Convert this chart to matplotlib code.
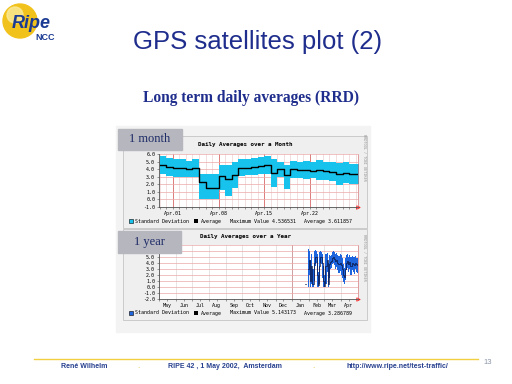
import numpy as np
import matplotlib.pyplot as plt
from matplotlib.patches import Rectangle, Circle

W, H = 512, 384

# ---- month chart: daily values, Mar 30 .. Apr 29 2002
month_days = np.arange('2002-03-30', '2002-04-30', dtype='datetime64[D]')
month_avg = [4.5, 4.3, 4.2, 4.2, 4.0, 4.1, 2.3, 1.5, 1.5, 3.1, 2.7, 3.2, 4.1, 4.2, 4.3, 4.4,
             4.5, 3.5, 4.0, 3.2, 4.0, 3.9, 3.9, 3.8, 3.9, 3.7, 3.6, 3.3, 3.5, 3.4, 3.4]
month_hi = [5.8, 5.5, 5.3, 5.3, 5.1, 5.3, 3.4, 3.3, 3.3, 4.6, 4.6, 5.0, 5.4, 5.4, 5.5, 5.6,
            5.8, 5.3, 5.0, 4.6, 5.1, 5.0, 5.1, 5.0, 5.2, 5.0, 4.9, 4.8, 4.9, 4.7, 4.7]
month_lo = [3.3, 3.1, 3.0, 3.0, 2.9, 3.0, 0.1, 0.0, 0.0, 1.3, 0.5, 1.5, 3.1, 3.2, 3.2, 3.3,
            3.4, 1.6, 2.9, 1.4, 2.8, 2.8, 2.7, 2.8, 2.6, 2.6, 2.4, 1.9, 2.2, 2.1, 2.1]
month_ticks = ['2002-04-01', '2002-04-08', '2002-04-15', '2002-04-22']
month_labels = ['Apr.01', 'Apr.08', 'Apr.15', 'Apr.22']

# ---- year chart: 2-day samples, Jan 24 .. Apr 30 2002
year_days = np.arange('2002-01-24', '2002-05-01', 2, dtype='datetime64[D]')
nan = np.nan
year_avg = [0.5, nan, nan, 3.0, 4.5, 1.0, 3.5, 0.5, 4.0, 5.0, 5.1, 2.0, 0.3, 3.5, 5.1, 5.0,
            4.0, 1.0, 0.2, 3.5, 4.5, 0.5, 3.8, 4.2, 4.4, 4.8, 5.0, 4.7, 4.3, 4.5, 4.1, 3.8,
            4.0, 3.6, 3.0, 2.0, 1.6, 3.0, 4.0, 4.3, 3.8, 4.2, 3.5, 4.0, 3.9, 3.7, 4.1, 3.8, 3.6]
year_lo = [0.0, nan, nan, 0.0, 2.0, 0.0, 0.5, 0.0, 1.0, 3.5, 4.0, 0.0, 0.0, 0.5, 4.0, 3.8,
           1.5, 0.0, 0.0, 0.5, 2.5, 0.0, 1.5, 3.0, 3.2, 3.8, 4.0, 3.6, 3.0, 3.3, 2.8, 2.4,
           2.6, 2.0, 1.5, 0.8, 0.5, 1.2, 2.8, 3.2, 2.5, 3.0, 2.0, 2.8, 2.5, 2.2, 3.0, 2.5, 2.3]
year_hi = [1.0, nan, nan, 6.3, 6.0, 4.5, 5.5, 3.0, 6.0, 6.2, 6.1, 5.5, 2.5, 5.8, 6.0, 5.9,
           5.6, 3.5, 2.0, 5.5, 5.7, 4.0, 5.4, 5.2, 5.4, 5.9, 6.0, 5.8, 5.6, 5.7, 5.4, 5.2,
           5.5, 5.3, 4.8, 3.8, 3.2, 4.8, 5.3, 5.5, 5.0, 5.3, 5.0, 5.2, 5.0, 5.1, 5.2, 4.9, 4.8]
year_months = ['May', 'Jun', 'Jul', 'Aug', 'Sep', 'Oct', 'Nov', 'Dec', 'Jan', 'Feb', 'Mar', 'Apr']

mono = 'DejaVu Sans Mono'
navy = '#1f2d8c'


def frac(x0, y0, x1, y1):
    # pixel box (top-left origin) -> figure fraction
    return [x0 / W, 1 - y1 / H, (x1 - x0) / W, (y1 - y0) / H]


fig = plt.figure(figsize=(5.12, 3.84), dpi=100)
bg = fig.add_axes([0, 0, 1, 1])
bg.set_xlim(0, W)
bg.set_ylim(H, 0)
bg.axis('off')

# slide
bg.add_patch(Circle((20, 21), 17, color='#f2c21c'))
bg.add_patch(Circle((15, 15), 8, color='#faeb9a', alpha=0.8))
bg.text(12, 24, 'Ripe', fontsize=13, style='italic', weight='bold', color='#1a3a94',
        family='Liberation Sans', va='center')
bg.text(35, 37, 'NCC', fontsize=6.5, weight='bold', color='#1a3a94', family='Liberation Sans',
        va='center')
bg.text(258, 42, 'GPS satellites plot (2)', fontsize=18.5, color=navy, family='Liberation Sans',
        ha='center', va='center')
bg.text(251, 98, 'Long term daily averages (RRD)', fontsize=11.2, weight='bold', color=navy,
        family='Liberation Serif', ha='center', va='center')

bg.plot([34, 478], [358.5, 358.5], color='#f0d040', lw=1)
for x, s in [(84, 'René Wilhelm'), (225, 'RIPE 42 , 1 May 2002,  Amsterdam'),
             (397, 'http://www.ripe.net/test-traffic/')]:
    bg.text(x, 366, s, fontsize=5, weight='bold', color='#27408f', family='Liberation Sans',
            ha='center', va='center')
for x in (138, 313):
    bg.text(x, 366, '.', fontsize=5, color='#e0c030', ha='center', va='center')
bg.text(488, 362, '13', fontsize=5.5, color='#8a96a8', family='Liberation Sans',
        ha='center', va='center')

# chart panel
bg.add_patch(Rectangle((116, 126), 254, 206, color='#f3f3f3'))
for y0, y1 in [(136, 228), (229, 320)]:
    bg.add_patch(Rectangle((123, y0), 244, y1 - y0, facecolor='#efefef', edgecolor='#c4c4c4',
                           lw=0.6))

bg.text(245, 144.7, 'Daily Averages over a Month', fontsize=4.2, weight='bold', family=mono,
        ha='center', va='center')
bg.text(245, 236.3, 'Daily Averages over a Year', fontsize=4.2, weight='bold', family=mono,
        ha='center', va='center')


def legend(y, color, maxv, avgv):
    bg.add_patch(Rectangle((128.5, y - 2), 4, 4, facecolor=color, edgecolor='black', lw=0.4))
    bg.add_patch(Rectangle((194, y - 2), 4, 4, facecolor='black'))
    for x, s in [(135, 'Standard Deviation'), (201, 'Average'),
                 (230, 'Maximum Value ' + maxv), (304, 'Average ' + avgv)]:
        bg.text(x, y, s, fontsize=3.6, family=mono, va='center')


legend(221.3, '#17c3ec', '4.536531', '3.611857')
legend(313, '#1e64dc', '5.143173', '3.286789')

for y in (157, 257):
    bg.text(364, y, 'RRDTOOL / TOBI OETIKER', fontsize=2.6, family=mono, color='#909090',
            rotation=270, ha='center', va='center')


def style(ax):
    ax.set_facecolor('white')
    ax.set_axisbelow(True)
    ax.spines['top'].set_visible(False)
    ax.spines['right'].set_color('#d06060')
    ax.spines['right'].set_linewidth(0.4)
    for s in ('left', 'bottom'):
        ax.spines[s].set_color('#505050')
        ax.spines[s].set_linewidth(0.6)
    ax.tick_params(which='both', labelsize=3.6, length=1.5, width=0.4, pad=1.5,
                   color='#505050')
    for lab in ax.get_xticklabels(which='both') + ax.get_yticklabels():
        lab.set_family(mono)
    ax.plot(1.005, 0, marker='>', ms=2.5, mfc='none', mec='red', mew=0.5,
            transform=ax.transAxes, clip_on=False)


# month chart
ax1 = fig.add_axes(frac(159.3, 154, 357.5, 207))
edges = np.append(month_days, month_days[-1] + 1)
ax1.fill_between(edges, np.append(month_lo, month_lo[-1]), np.append(month_hi, month_hi[-1]),
                 step='post', color='#17c3ec', lw=0)
ax1.step(edges, np.append(month_avg, month_avg[-1]), where='post', color='black', lw=1.0)
ax1.set_xlim(np.datetime64('2002-03-29T22:00'), np.datetime64('2002-04-29T07:00'))
ax1.set_ylim(-1, 6)
ax1.set_yticks(np.arange(-1, 7), ['%.1f' % v for v in np.arange(-1, 7)])
ax1.set_xticks(np.array(month_ticks, dtype='datetime64[D]'), month_labels)
ax1.set_xticks(month_days, minor=True)
ax1.grid(which='major', axis='y', color='#eba8a8', lw=0.5)
ax1.grid(which='major', axis='x', color='#d04848', lw=0.5)
ax1.grid(which='minor', axis='x', color='#e8c8c8', lw=0.4)
style(ax1)

# year chart (labels 6.0 / 7.0 sit under the "1 year" box in the original)
ax2 = fig.add_axes(frac(159.3, 245.3, 357.5, 298.7))
yedges = np.append(year_days, year_days[-1] + 1)
ax2.fill_between(yedges, np.append(year_lo, year_lo[-1]), np.append(year_hi, year_hi[-1]),
                 step='post', color='#1e64dc', lw=0)
ax2.step(yedges, np.append(year_avg, year_avg[-1]), where='post', color='#0a1440', lw=0.5)
ax2.set_xlim(np.datetime64('2001-05-01'), np.datetime64('2002-05-01'))
ax2.set_ylim(-2, 7)
ax2.set_yticks(np.arange(-2, 8), ['%.1f' % v if v < 6 else '' for v in np.arange(-2, 8)])
month_starts = np.arange('2001-05', '2002-05', dtype='datetime64[M]').astype('datetime64[D]')
ax2.set_xticks(month_starts, [''] * 12)
ax2.set_xticks(month_starts + 14, year_months, minor=True)
ax2.tick_params(axis='x', which='minor', length=0)
ax2.grid(which='major', axis='y', color='#eba8a8', lw=0.5)
ax2.grid(which='major', axis='x', color='#d8d0d0', lw=0.4)
ax2.axvline(np.datetime64('2002-01-01'), color='#c04848', lw=0.6, zorder=0.5)
style(ax2)

# label boxes on top
top = fig.add_axes([0, 0, 1, 1])
top.set_xlim(0, W)
top.set_ylim(H, 0)
top.axis('off')
for (x0, y0, x1, y1), s in [((118, 129, 182, 150), '1 month'), ((118, 231, 181, 253), '1 year')]:
    top.add_patch(Rectangle((x0, y0), x1 - x0, y1 - y0, color='#b6b6be'))
    top.text((x0 + x1) / 2, (y0 + y1) / 2, s, fontsize=9, family='Liberation Serif',
             color='#1c2a66', ha='center', va='center')

fig.savefig('out.png', dpi=100)
